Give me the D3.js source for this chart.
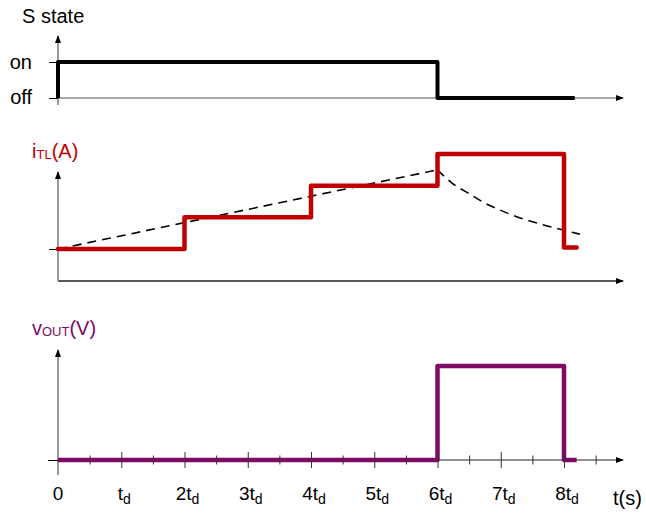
<!DOCTYPE html>
<html>
<head>
<meta charset="utf-8">
<script src="https://cdn.jsdelivr.net/npm/d3@7"></script>
<style>
  body { margin: 0; background: #fff; }
  text { font-family: "Liberation Sans", Arial, sans-serif; }
</style>
</head>
<body>
<div id="chart"></div>
<script>
// switch state
const sTime = [0, 0, 6, 8.17];
const sState = [0, 1, 0, 0];
const sLabels = ["off", "on"];

// transmission line current, steps
const iTime = [0, 2, 4, 6, 8, 8.2];
const iLevel = [0, 1, 2, 3, 0.05, 0.05];

// dashed envelope: rise then decay
const riseTime = [0, 6];
const riseLevel = [0, 2.5];
const decayTime = [6, 6.25, 6.5, 6.75, 7, 7.25, 7.5, 7.75, 8, 8.25];
const decayLevel = [2.5, 2.05, 1.75, 1.45, 1.22, 1.02, 0.86, 0.72, 0.59, 0.47];

// output voltage pulse
const vTime = [0, 6, 8, 8.2];
const vLevel = [0, 1, 0, 0];

// time axis
const majorTicks = [1, 2, 3, 4, 5, 6, 7, 8];
const minorTicks = [0.5, 1.5, 2.5, 3.5, 4.5, 5.5, 6.5, 7.5, 8.5];
const labelTicks = [0, 1, 2, 3, 4, 5, 6, 7, 8];
const labelMain = ["0", "t", "2t", "3t", "4t", "5t", "6t", "7t", "8t"];
const labelSub = ["", "d", "d", "d", "d", "d", "d", "d", "d"];

const w = 646, h = 513;
const red = "#c00000", purple = "#7e0a66", gray = "#808080";

let svg = d3.select("#chart")
            .append("svg")
            .attr("width", w)
            .attr("height", h);

svg.append("defs").append("marker")
   .attr("id", "arrow")
   .attr("viewBox", "0 0 8 8")
   .attr("refX", 7)
   .attr("refY", 4)
   .attr("markerWidth", 8)
   .attr("markerHeight", 8)
   .attr("markerUnits", "userSpaceOnUse")
   .attr("orient", "auto")
   .append("path")
   .attr("d", "M0,1 L8,4 L0,7 Z")
   .attr("fill", "#000");

let x = d3.scaleLinear().domain([0, 8]).range([58, 564]);
let xEnd = 623;

let yS = d3.scaleLinear().domain([0, 1]).range([98, 62]);
let yI = d3.scaleLinear().domain([0, 3]).range([249, 154]);
let yV = d3.scaleLinear().domain([0, 1]).range([460, 366]);

// draws the axis pair of one panel
let drawFrame = (xAxisY, yTop, yBottom, xColor, xWidth) => {
  svg.append("line")
     .attr("x1", x(0)).attr("x2", xEnd)
     .attr("y1", xAxisY).attr("y2", xAxisY)
     .attr("stroke", xColor)
     .attr("stroke-width", xWidth)
     .attr("marker-end", "url(#arrow)");

  svg.append("line")
     .attr("x1", x(0)).attr("x2", x(0))
     .attr("y1", yBottom).attr("y2", yTop)
     .attr("stroke", gray)
     .attr("stroke-width", 1.6)
     .attr("marker-end", "url(#arrow)");
};

let title = (tx, ty, main, sub, rest, color) => {
  let t = svg.append("text")
             .attr("x", tx).attr("y", ty)
             .attr("font-size", 20)
             .attr("fill", color);
  t.append("tspan").text(main);
  if (sub) {
    t.append("tspan").attr("font-size", 13).attr("dy", 1).text(sub);
    t.append("tspan").attr("dy", -1).text(rest);
  }
};

// ---- panel 1: S state
title(22, 23, "S state", null, null, "#000");
drawFrame(yS(0), 36, 105, "#555", 1);

let sAxis = svg.append("g")
               .attr("transform", `translate(${x(0)},0)`)
               .call(d3.axisLeft(yS).tickValues([0, 1]).tickSize(9).tickPadding(17)
                       .tickFormat(d => sLabels[d]));
sAxis.select(".domain").remove();
sAxis.selectAll("line").attr("stroke", "#000");
sAxis.selectAll("text")
     .attr("font-size", 20)
     .attr("font-family", "Liberation Sans, Arial, sans-serif")
     .attr("fill", "#000")
     .attr("dy", d => d === 1 ? "0.3em" : "0.25em");

let sLine = d3.line()
              .x((d, i) => x(sTime[i]))
              .y((d, i) => yS(sState[i]))
              .curve(d3.curveStepAfter);

svg.append("path")
   .attr("d", sLine(sTime))
   .attr("fill", "none")
   .attr("stroke", "#000")
   .attr("stroke-width", 4)
   .attr("stroke-linejoin", "round");

// ---- panel 2: current
title(32, 158, "i", "TL", "(A)", red);
drawFrame(281, 172, 281, "#222", 1.4);

let iAxis = svg.append("g")
               .attr("transform", `translate(${x(0)},0)`)
               .call(d3.axisLeft(yI).tickValues([0]).tickSize(9).tickFormat(""));
iAxis.select(".domain").remove();
iAxis.selectAll("line").attr("stroke", "#000");

let envLine = d3.line()
                .x(d => x(d[0]))
                .y(d => yI(d[1]));

svg.append("path")
   .attr("d", envLine(d3.zip(riseTime, riseLevel)))
   .attr("fill", "none")
   .attr("stroke", "#000")
   .attr("stroke-width", 1.6)
   .attr("stroke-dasharray", "9,6");

svg.append("path")
   .attr("d", envLine.curve(d3.curveMonotoneX)(d3.zip(decayTime, decayLevel)))
   .attr("fill", "none")
   .attr("stroke", "#000")
   .attr("stroke-width", 1.6)
   .attr("stroke-dasharray", "9,6");

let iLine = d3.line()
              .x(d => x(d[0]))
              .y(d => yI(d[1]))
              .curve(d3.curveStepAfter);

svg.append("path")
   .attr("d", iLine(d3.zip(iTime, iLevel)))
   .attr("fill", "none")
   .attr("stroke", red)
   .attr("stroke-width", 4.5)
   .attr("stroke-linejoin", "round")
   .attr("stroke-linecap", "round");

// ---- panel 3: output voltage
title(32, 335, "v", "OUT", "(V)", purple);
drawFrame(yV(0), 350, 475, "#222", 1.2);

let vAxis = svg.append("g")
               .attr("transform", `translate(${x(0)},0)`)
               .call(d3.axisLeft(yV).tickValues([0]).tickSize(10).tickFormat(""));
vAxis.select(".domain").remove();
vAxis.selectAll("line").attr("stroke", "#000").attr("x2", 8).attr("x1", -10);

let vLine = d3.line()
              .x(d => x(d[0]))
              .y(d => yV(d[1]))
              .curve(d3.curveStepAfter);

svg.append("path")
   .attr("d", vLine(d3.zip(vTime, vLevel)))
   .attr("fill", "none")
   .attr("stroke", purple)
   .attr("stroke-width", 4.5)
   .attr("stroke-linejoin", "round");

// ticks on time axis, drawn on top of the pulse
let minorAxis = svg.append("g")
                   .attr("transform", `translate(0,${yV(0)})`)
                   .call(d3.axisBottom(x).tickValues(minorTicks).tickSize(4.5).tickFormat(""));
minorAxis.select(".domain").remove();
minorAxis.selectAll("line").attr("y1", -4.5).attr("stroke", "#333");

let majorAxis = svg.append("g")
                   .attr("transform", `translate(0,${yV(0)})`)
                   .call(d3.axisBottom(x).tickValues(majorTicks).tickSize(8).tickFormat(""));
majorAxis.select(".domain").remove();
majorAxis.selectAll("line").attr("y1", -8).attr("stroke", "#333");

// tick labels with subscript d
let labels = svg.append("g")
                .selectAll("text")
                .data(labelTicks)
                .enter()
                .append("text")
                .attr("x", d => x(d) + (d === 0 ? 0 : 3))
                .attr("y", 500)
                .attr("text-anchor", "middle")
                .attr("font-size", 19)
                .attr("fill", "#000");

labels.append("tspan").text((d, i) => labelMain[i]);
labels.append("tspan")
      .attr("font-size", 14)
      .attr("dy", 4)
      .text((d, i) => labelSub[i]);

svg.append("text")
   .attr("x", 613)
   .attr("y", 505)
   .attr("font-size", 20)
   .attr("fill", "#000")
   .text("t(s)");
</script>
</body>
</html>
